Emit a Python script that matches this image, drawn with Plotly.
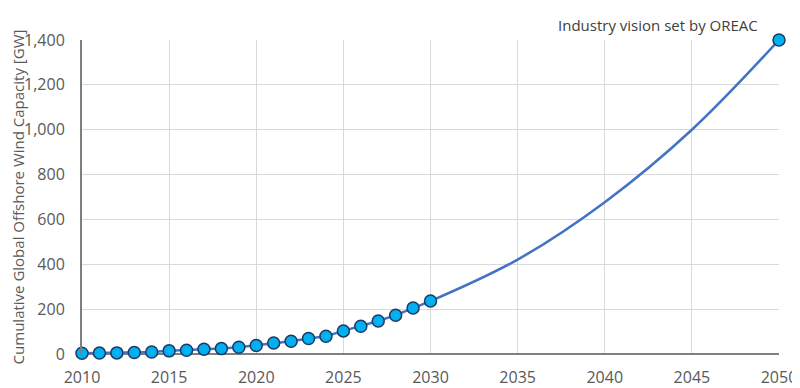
import plotly.graph_objects as go

years_hist = list(range(2010, 2031))
capacity_hist = [3, 4, 5, 7, 9, 14, 17, 21, 24, 30, 38, 49, 57, 69, 79, 103, 124, 147, 173, 205, 236]

years_vision = [2030, 2035, 2040, 2045, 2050]
capacity_vision = [236, 421, 677, 1000, 1400]

target_year = [2050]
target_capacity = [1400]

x_ticks = [2010, 2015, 2020, 2025, 2030, 2035, 2040, 2045, 2050]
y_ticks = [0, 200, 400, 600, 800, 1000, 1200, 1400]

LINE = "#4472c4"
FILL = "#00b0f0"
EDGE = "#1f3864"
TXT = "#595959"
FONT = "Open Sans"

# page body has an 8px margin, so the figure is 8px smaller than the window
W, H = 792, 380
ML, MR, MT, MB = 74, 21, 32, 34

fig = go.Figure()
fig.add_trace(go.Scatter(
    x=years_vision, y=capacity_vision, mode="lines",
    line=dict(color=LINE, width=2.5, shape="spline", smoothing=1.0),
    hoverinfo="skip", showlegend=False))
fig.add_trace(go.Scatter(
    x=years_hist, y=capacity_hist, mode="lines+markers",
    line=dict(color=LINE, width=2.5),
    marker=dict(size=12, color=FILL, line=dict(color=EDGE, width=1.5)),
    cliponaxis=False, showlegend=False))
fig.add_trace(go.Scatter(
    x=target_year, y=target_capacity, mode="markers",
    marker=dict(size=12, color=FILL, line=dict(color=EDGE, width=1.5)),
    cliponaxis=False, showlegend=False))

fig.add_annotation(
    x=(752 - ML) / (W - ML - MR), xref="paper",
    y=1 + (MT - 17) / (H - MT - MB), yref="paper",
    xanchor="right", yanchor="middle",
    text="Industry vision set by OREAC", showarrow=False,
    font=dict(family=FONT, size=15, color="#404040"))

fig.update_xaxes(
    range=[2010, 2050], tickvals=x_ticks, showgrid=True, gridcolor="#d9d9d9", gridwidth=1,
    showline=False, zeroline=False, ticks="", automargin=False, ticklabelstandoff=12,
    tickfont=dict(family=FONT, size=16, color=TXT))
fig.update_yaxes(
    range=[0, 1400], tickvals=y_ticks, tickformat=",", showgrid=True, gridcolor="#d9d9d9",
    gridwidth=1, showline=True, linecolor="#7f7f7f", linewidth=2, zeroline=True,
    zerolinecolor="#7f7f7f", zerolinewidth=2, ticks="", automargin=False,
    ticklabelstandoff=12,
    title=dict(text="Cumulative Global Offshore Wind Capacity [GW]",
               font=dict(family=FONT, size=15, color=TXT), standoff=6),
    tickfont=dict(family=FONT, size=16, color=TXT))

fig.update_layout(
    width=W, height=H,
    margin=dict(l=ML, r=MR, t=MT, b=MB),
    plot_bgcolor="white", paper_bgcolor="white",
    font=dict(family=FONT, color=TXT))

fig.write_html("out.html")
